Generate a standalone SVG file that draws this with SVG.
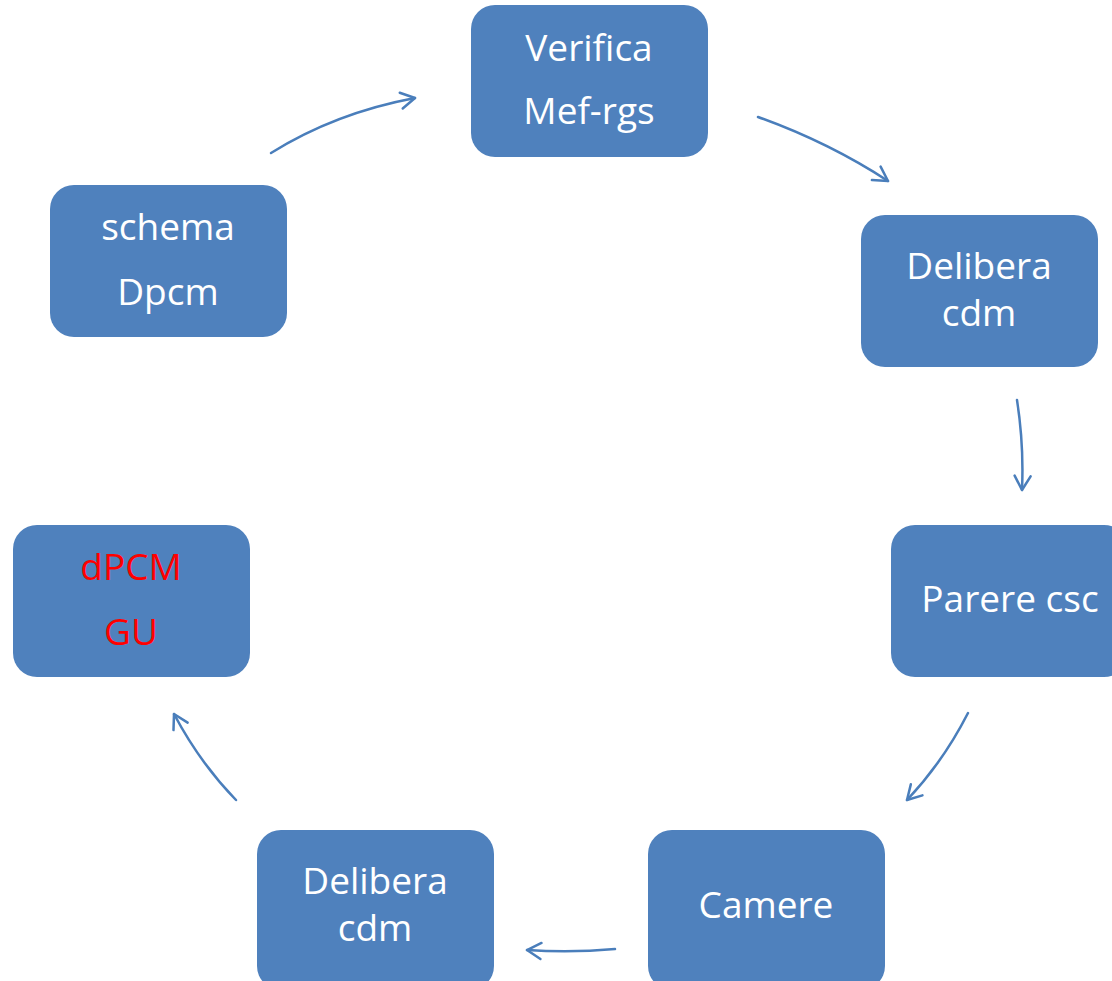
<svg xmlns="http://www.w3.org/2000/svg" width="1112" height="981" viewBox="0 0 1112 981">
<defs>
<style>
.box{fill:#4F81BD;stroke:none}
.t{font-family:"Open Sans","Liberation Sans",sans-serif;font-size:37px;fill:#ffffff;text-anchor:middle}
.r{fill:#FF0000}
.c{fill:none;stroke:#4A7EBB;stroke-width:2.5;stroke-linecap:round}
</style>
<marker id="ah" viewBox="0 0 20 20" refX="18" refY="10" markerWidth="20" markerHeight="20" markerUnits="userSpaceOnUse" orient="auto">
<path d="M4,2 L18,10 L4,18" fill="none" stroke="#4A7EBB" stroke-width="2.5" stroke-linecap="round" stroke-linejoin="round"/>
</marker>
</defs>
<rect width="1112" height="981" fill="#ffffff"/>
<g id="connectors">
<path class="c" d="M271,153 Q335,113 415,98" marker-end="url(#ah)"/>
<path class="c" d="M758,117 Q828,142 888,181" marker-end="url(#ah)"/>
<path class="c" d="M1017,400 Q1024,445 1022,490" marker-end="url(#ah)"/>
<path class="c" d="M968,713 Q943,762 907,800" marker-end="url(#ah)"/>
<path class="c" d="M615,949 Q571,953 527,950" marker-end="url(#ah)"/>
<path class="c" d="M236,800 Q200,763 174,714" marker-end="url(#ah)"/>
</g>
<g id="n-verifica">
<rect class="box" x="471" y="5" width="237" height="152" rx="24"/>
<text class="t" x="589" y="61">Verifica</text>
<text class="t" x="589" y="124">Mef-rgs</text>
</g>
<g id="n-delibera1">
<rect class="box" x="861" y="215" width="237" height="152" rx="24"/>
<text class="t" x="979" y="279">Delibera</text>
<text class="t" x="979" y="326">cdm</text>
</g>
<g id="n-parere">
<rect class="box" x="891" y="525" width="237" height="152" rx="24"/>
<text class="t" x="1010" y="612">Parere csc</text>
</g>
<g id="n-camere">
<rect class="box" x="648" y="830" width="237" height="160" rx="24"/>
<text class="t" x="766" y="918">Camere</text>
</g>
<g id="n-delibera2">
<rect class="box" x="257" y="830" width="237" height="160" rx="24"/>
<text class="t" x="375" y="894">Delibera</text>
<text class="t" x="375" y="941">cdm</text>
</g>
<g id="n-dpcm">
<rect class="box" x="13" y="525" width="237" height="152" rx="24"/>
<text class="t r" x="131" y="580">dPCM</text>
<text class="t r" x="131" y="645">GU</text>
</g>
<g id="n-schema">
<rect class="box" x="50" y="185" width="237" height="152" rx="24"/>
<text class="t" x="168" y="240">schema</text>
<text class="t" x="168" y="305">Dpcm</text>
</g>
</svg>
